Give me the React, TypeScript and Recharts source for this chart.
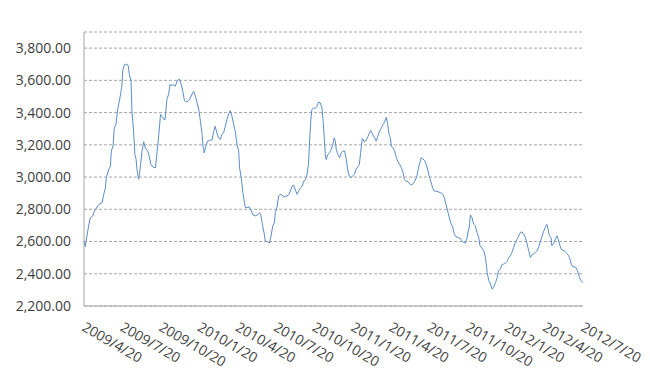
import { LineChart, Line, XAxis, YAxis, CartesianGrid } from 'recharts';

// quarter labels on the date axis
const dateLabels = [
  '2009/4/20', '2009/7/20', '2009/10/20', '2010/1/20', '2010/4/20',
  '2010/7/20', '2010/10/20', '2011/1/20', '2011/4/20', '2011/7/20',
  '2011/10/20', '2012/1/20', '2012/4/20', '2012/7/20',
];

const priceTicks = [2200, 2400, 2600, 2800, 3000, 3200, 3400, 3600, 3800];

// days since 2009/4/20
const days = [
  0, 3, 7, 11, 15, 21, 25, 31, 36, 43, 47, 51, 53, 59, 63, 65, 69, 72, 76, 80,
  84, 88, 90, 92, 96, 100, 105, 108, 112, 114, 118, 121, 124, 126, 130, 132, 135, 138, 142, 146,
  151, 155, 159, 164, 170, 174, 178, 182, 186, 190, 193, 197, 201, 205, 209, 213, 217, 222, 227, 231,
  235, 239,
  241, 245, 249, 253, 257, 261, 265, 269, 273, 277, 281, 283, 286, 290, 294, 299, 305, 308, 312, 316,
  320, 324, 328, 332, 336, 340, 344, 348, 352, 356, 360, 364, 368, 370, 374, 378, 381, 384, 388, 393,
  398, 402, 408, 413, 418, 421, 425, 429, 431, 436, 441, 445, 449, 453, 455, 459, 463, 467, 471, 475,
  479, 483, 487, 491, 495, 499, 503, 507, 511, 515, 519, 523, 527, 530, 534, 537, 540, 542, 546, 550,
  554, 558, 562, 566, 569, 572, 574, 576, 580, 584, 588, 592, 595, 598, 600, 604, 608, 612, 616, 620,
  624, 627, 631, 635, 639, 643, 647, 651, 655, 658, 662, 666, 670, 674, 678, 682, 686, 691, 695, 699,
  703, 707, 710, 714, 718,
  719, 722, 725, 729, 731, 735, 739, 743, 747, 751, 755, 759, 762, 766, 771, 776, 780, 784, 788, 792,
  796, 799, 802, 806, 810, 814, 818, 822, 826, 829, 833, 837, 842, 848, 853, 857, 861, 865, 869, 873,
  877, 881, 885, 890, 895, 899, 903, 907, 911, 914, 917, 919, 923, 927, 931, 935, 939, 942, 947, 951,
  955,
  959, 963, 967, 971, 975, 979, 983, 986, 990, 994, 998, 1002, 1006, 1010, 1014, 1018, 1022, 1026, 1030, 1034,
  1038, 1042, 1046, 1050, 1054, 1058, 1062, 1066, 1070, 1074, 1078, 1082, 1086, 1090, 1093, 1097, 1101, 1104, 1107, 1111,
  1113, 1117, 1121, 1125, 1128, 1131, 1135, 1139, 1143, 1147, 1151, 1155, 1159, 1163, 1166, 1170, 1174, 1178, 1182, 1187,
];

const prices = [
  2600, 2568, 2635, 2697, 2748, 2759, 2790, 2814, 2831, 2841, 2893, 2934, 2996, 3047, 3068, 3161, 3192, 3305, 3326, 3419,
  3470, 3532, 3563, 3656, 3697, 3701, 3693, 3635, 3594, 3408, 3284, 3140, 3109, 3047, 2986, 3016, 3089, 3161, 3219, 3177,
  3165, 3130, 3078, 3062, 3058, 3161, 3264, 3388, 3377, 3357, 3357, 3480, 3511, 3577, 3569, 3573, 3563, 3598, 3608, 3577,
  3532, 3474,
  3470, 3466, 3474, 3490, 3515, 3532, 3501, 3460, 3419, 3346, 3264, 3192, 3150, 3192, 3223, 3227, 3233, 3280, 3315, 3274,
  3243, 3233, 3264, 3274, 3315, 3357, 3392, 3412, 3377, 3326, 3280, 3202, 3161, 3058, 2996, 2903, 2852, 2810, 2810, 2814,
  2790, 2765, 2759, 2765, 2779, 2759, 2697, 2645, 2604, 2600, 2590, 2635, 2697, 2717, 2779, 2810, 2882, 2893, 2889, 2876,
  2882, 2882, 2893, 2913, 2944, 2950, 2917, 2893, 2917, 2934, 2944, 2975, 2986, 3006, 3078, 3243, 3367, 3419, 3429, 3425,
  3439, 3466, 3460, 3429, 3346, 3223, 3140, 3109, 3140, 3150, 3171, 3202, 3243, 3223, 3171, 3140, 3120, 3150, 3161, 3161,
  3109, 3047, 3006, 2996, 3006, 3016, 3047, 3062, 3078, 3150, 3239, 3223, 3223, 3243, 3268, 3289, 3268, 3243, 3223, 3254,
  3284, 3301, 3322, 3336, 3363,
  3371, 3336, 3274, 3239, 3192, 3181, 3161, 3120, 3095, 3078, 3058, 3027, 2986, 2975, 2971, 2954, 2950, 2965, 2979, 3006,
  3062, 3089, 3120, 3113, 3103, 3078, 3041, 2996, 2965, 2934, 2913, 2913, 2909, 2903, 2897, 2872, 2831, 2790, 2748, 2711,
  2690, 2645, 2629, 2625, 2619, 2604, 2594, 2590, 2619, 2666, 2697, 2765, 2748, 2707, 2697, 2656, 2625, 2573, 2559, 2542,
  2500,
  2408, 2357, 2336, 2305, 2320, 2346, 2377, 2418, 2429, 2456, 2460, 2464, 2476, 2497, 2511, 2532, 2563, 2594, 2614, 2635,
  2656, 2660, 2645, 2625, 2584, 2542, 2501, 2518, 2526, 2532, 2546, 2567, 2604, 2635, 2660, 2687, 2707, 2676, 2635, 2625,
  2573, 2588, 2614, 2635, 2614, 2584, 2553, 2546, 2542, 2532, 2518, 2501, 2460, 2443, 2443, 2439, 2418, 2381, 2357, 2346,
];

const START = Date.UTC(2009, 3, 20);
const toDay = (label: string) => {
  const [y, m, d] = label.split('/').map(Number);
  return Math.round((Date.UTC(y, m - 1, d) - START) / 86400000);
};
const tickDays = dateLabels.map(toDay);

const data = days.map((day, i) => ({ day, price: prices[i] }));

const FONT = '"Open Sans", sans-serif';
const TEXT = '#404040';
const AXIS = '#a6a6a6';

const fmt = (v: number) =>
  v.toLocaleString('en-US', { minimumFractionDigits: 2, maximumFractionDigits: 2 });

function DateTick({ x, y, payload }: any) {
  const label = dateLabels[tickDays.indexOf(payload.value)];
  const tx = x - 3;
  const ty = y + 24;
  return (
    <text
      x={tx}
      y={ty}
      transform={`rotate(30, ${tx}, ${ty})`}
      textAnchor="start"
      fontFamily={FONT}
      fontSize={14}
      fill={TEXT}
    >
      {label}
    </text>
  );
}

export default function App() {
  return (
    <div style={{ position: 'absolute', left: 0, top: 0, width: 650, height: 380, background: '#fff' }}>
      <LineChart
        width={650}
        height={380}
        data={data}
        margin={{ top: 32, right: 67, bottom: 0, left: 0 }}
      >
        <CartesianGrid vertical={false} stroke={AXIS} strokeDasharray="3 2" />
        <XAxis
          dataKey="day"
          type="number"
          domain={[0, 1187]}
          ticks={tickDays}
          interval={0}
          height={74}
          tickLine={false}
          tickSize={0}
          tickMargin={0}
          axisLine={{ stroke: AXIS }}
          tick={<DateTick />}
        />
        <YAxis
          domain={[2200, 3900]}
          ticks={priceTicks}
          interval={0}
          width={84}
          tickLine={false}
          tickSize={0}
          tickMargin={13}
          axisLine={{ stroke: AXIS }}
          tickFormatter={fmt}
          tick={{ fontFamily: FONT, fontSize: 14, fill: TEXT }}
        />
        <Line
          dataKey="price"
          type="linear"
          stroke="#5b8cc8"
          strokeWidth={1}
          dot={false}
          isAnimationActive={false}
        />
      </LineChart>
    </div>
  );
}
